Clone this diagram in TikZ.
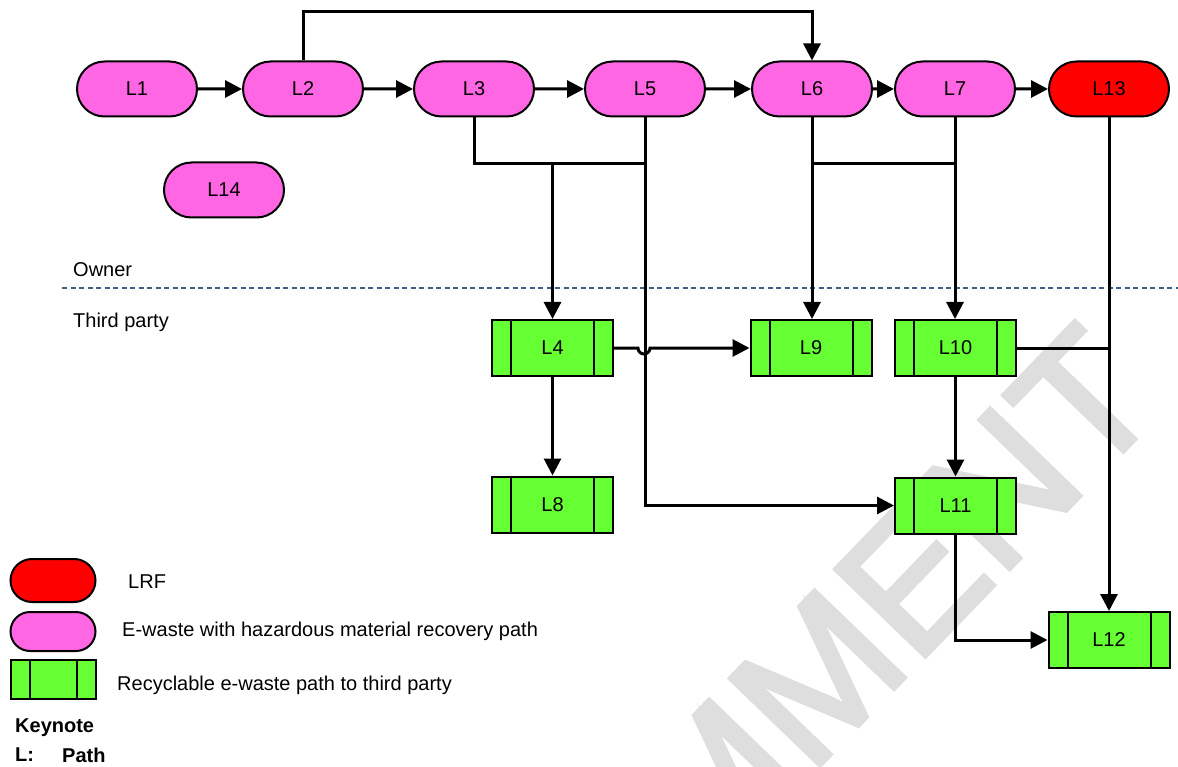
\documentclass[tikz,border=0pt]{standalone}
\usepackage{fontspec}
\setmainfont{Liberation Sans}
\newfontfamily\wmfont[FakeBold=2.5]{Liberation Sans}
\usetikzlibrary{shapes.misc,arrows.meta}
\definecolor{pinkc}{HTML}{FF66E3}
\definecolor{redc}{HTML}{FF0000}
\definecolor{greenc}{HTML}{66FF33}
\definecolor{dashc}{HTML}{3D6185}
\definecolor{wmc}{HTML}{DEDEDE}
\tikzset{
  txt/.style={font=\fontsize{20}{24}\selectfont, inner sep=0pt},
  pinkbox/.style={rounded rectangle, draw=black, line width=2pt, fill=pinkc,
    minimum width=120pt, minimum height=55pt, inner sep=0pt, font=\fontsize{20}{24}\selectfont},
  redbox/.style={pinkbox, fill=redc},
  greenbox/.style={rectangle, draw=black, line width=2pt, fill=greenc,
    minimum width=121pt, minimum height=56pt, inner sep=0pt, font=\fontsize{20}{24}\selectfont,
    path picture={
      \draw[line width=2pt] ([xshift=19pt]path picture bounding box.north west) -- ([xshift=19pt]path picture bounding box.south west);
      \draw[line width=2pt] ([xshift=-19pt]path picture bounding box.north east) -- ([xshift=-19pt]path picture bounding box.south east);
    }},
  conn/.style={line width=3pt, draw=black},
  arr/.style={conn, -{Triangle[length=17pt,width=17pt]}},
  dashline/.style={draw=dashc, line width=2.2pt, dash pattern=on 5pt off 3.5pt}
}
\begin{document}
\begin{tikzpicture}[x=1pt,y=-1pt]
\useasboundingbox (0,0) rectangle (1178,767);
% watermark
\node[font=\wmfont\fontsize{182}{182}\selectfont, text=wmc, rotate=46, anchor=base east, inner sep=0pt] (wm) at (1168,405) {COMMENT};
% junction coordinates
\coordinate (top) at (0,12);
\coordinate (j1) at (0,164);
% pink row
\node[pinkbox] (L1) at (137,89) {L1};
\node[pinkbox] (L2) at (303,89) {L2};
\node[pinkbox] (L3) at (474,89) {L3};
\node[pinkbox] (L5) at (645,89) {L5};
\node[pinkbox] (L6) at (812,89) {L6};
\node[pinkbox] (L7) at (955,89) {L7};
\node[redbox] (L13) at (1109,89) {L13};
\node[pinkbox] (L14) at (224,190) {L14};
% green boxes
\node[greenbox] (L4) at (552.5,348) {L4};
\node[greenbox] (L8) at (552.5,504.5) {L8};
\node[greenbox] (L9) at (811,348) {L9};
\node[greenbox] (L10) at (955.5,348) {L10};
\node[greenbox] (L11) at (955.5,505.5) {L11};
\node[greenbox] (L12) at (1109,640) {L12};
% separator
\coordinate (sepL) at (62,288);
\coordinate (sepR) at (1178,288);
\draw[dashline] (sepL) -- (sepR);
\node[txt, anchor=west] (owner) at (73,270) {Owner};
\node[txt, anchor=west] (third) at (73,322) {Third party};
% main row arrows
\draw[arr] (L1) -- (L2);
\draw[arr] (L2) -- (L3);
\draw[arr] (L3) -- (L5);
\draw[arr] (L5) -- (L6);
\draw[arr] (L6) -- (L7);
\draw[arr] (L7) -- (L13);
% top bypass
\draw[arr] (L2.north) -- (L2.north |- top) -- (L6.north |- top) -- (L6.north);
% L3/L5 to L4
\draw[conn] (L3.south) -- (L3.south |- j1) -- (L5.south |- j1);
\draw[arr] (L4.north |- j1) -- (L4.north);
\draw[arr] (L5.south) -- (L5.south |- L11.west) -- (L11.west);
% L6/L7
\draw[arr] (L6.south) -- (L6.south |- L9.north);
\draw[conn] (L6.south |- j1) -- (L7.south |- j1);
\draw[arr] (L7.south) -- (L7.south |- L10.north);
% L13 to L12
\draw[arr] (L13.south) -- (L13.south |- L12.north);
\draw[conn] (L10.east) -- (L13.south |- L10.east);
% L4 to L9 with hop
\coordinate (hopA) at (638,348);
\draw[arr] (L4.east) -- (hopA) arc[start angle=180, end angle=0, radius=6] -- (L9.west);
\draw[arr] (L4.south) -- (L8.north);
\draw[arr] (L10.south) -- (L11.north);
\draw[arr] (L11.south) -- (L11.south |- L12.west) -- (L12.west);
% legend
\node[redbox, minimum width=85pt, minimum height=43pt] (legred) at (53,580.5) {};
\node[pinkbox, minimum width=85pt, minimum height=39pt] (legpink) at (53,631.5) {};
\node[greenbox, minimum width=85pt, minimum height=39pt] (leggreen) at (53,679.5) {};
\node[txt, anchor=west] (tLRF) at (128,582) {LRF};
\node[txt, anchor=west] (tpink) at (122,631) {E-waste with hazardous material recovery path};
\node[txt, anchor=west] (tgreen) at (117,685) {Recyclable e-waste path to third party};
\node[txt, anchor=west, font=\fontsize{20}{24}\selectfont\bfseries] (key) at (15,728) {Keynote};
\node[txt, anchor=west, font=\fontsize{20}{24}\selectfont\bfseries] (keyL) at (15,755) {L:};
\node[txt, anchor=west, font=\fontsize{20}{24}\selectfont\bfseries] (keyP) at (62,755) {Path};
\end{tikzpicture}
\end{document}
